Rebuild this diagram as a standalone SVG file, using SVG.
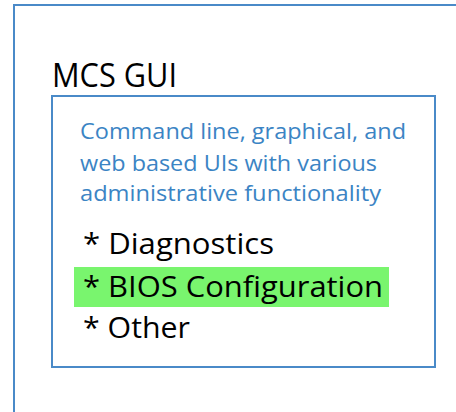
<svg xmlns="http://www.w3.org/2000/svg" width="456" height="412" viewBox="0 0 456 412">
<style>
.box{fill:none;stroke:#4a8ac8;stroke-width:2}
.title{font-family:"Open Sans","Noto Sans",sans-serif;font-size:33px;fill:#000}
.desc{font-family:"Open Sans","Noto Sans",sans-serif;font-size:22px;fill:#3b84c4}
.item{font-family:"Open Sans","Noto Sans",sans-serif;font-size:30px;fill:#000}
</style>
<rect width="456" height="412" fill="#fff"/>
<g id="outer">
<rect class="box" x="14" y="5" width="460" height="420"/>
<text class="title" x="52" y="87" textLength="125" lengthAdjust="spacingAndGlyphs">MCS GUI</text>
</g>
<g id="mcs-gui">
<rect class="box" x="52" y="96" width="383" height="271"/>
<text class="desc" x="80" y="139" textLength="326" lengthAdjust="spacingAndGlyphs">Command line, graphical, and</text>
<text class="desc" x="80" y="171" textLength="297" lengthAdjust="spacingAndGlyphs">web based UIs with various</text>
<text class="desc" x="80" y="201" textLength="301" lengthAdjust="spacingAndGlyphs">administrative functionality</text>
<text class="item" x="83" y="254" textLength="191" lengthAdjust="spacingAndGlyphs">* Diagnostics</text>
<rect x="74" y="267" width="315" height="40" fill="#79f56e"/>
<text class="item" x="83" y="297" textLength="300" lengthAdjust="spacingAndGlyphs">* BIOS Configuration</text>
<text class="item" x="83" y="338" textLength="107" lengthAdjust="spacingAndGlyphs">* Other</text>
</g>
</svg>
